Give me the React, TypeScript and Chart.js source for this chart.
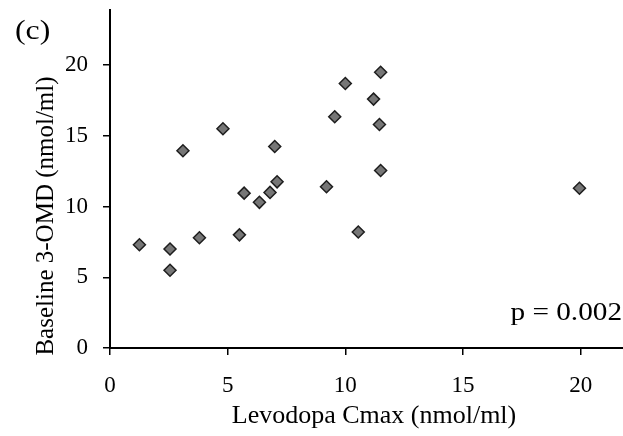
import React, { useEffect, useRef } from "react";
import { Chart, registerables } from "chart.js";

Chart.register(...registerables);

const levodopaCmax: number[] = [1.25, 2.55, 2.55, 3.1, 3.8, 4.8, 5.5, 5.7, 6.35, 6.8, 7.0, 7.1, 9.2, 9.55, 10.0, 10.55, 11.2, 11.45, 11.5, 11.5, 19.95];
const baseline3OMD: number[] = [7.3, 7.0, 5.5, 13.95, 7.8, 15.5, 8.0, 10.95, 10.3, 11.0, 14.25, 11.75, 11.4, 16.35, 18.7, 8.2, 17.6, 15.8, 19.5, 12.55, 11.3];
const xTickValues: number[] = [0, 5, 10, 15, 20];
const yTickValues: number[] = [0, 5, 10, 15, 20];
const panelLabel = "(c)";
const pValueLabel = "p = 0.002";
const xTitle = "Levodopa Cmax (nmol/ml)";
const yTitle = "Baseline 3-OMD (nmol/ml)";

const FONT = "'Liberation Serif', 'Times New Roman', serif";

const textPlugin = {
  id: "textPlugin",
  afterDraw(chart: any) {
    const ctx = chart.ctx as CanvasRenderingContext2D;
    ctx.save();
    ctx.fillStyle = "#000";
    ctx.textBaseline = "alphabetic";
    // panel label
    ctx.save();
    ctx.font = `27px ${FONT}`;
    ctx.textAlign = "left";
    ctx.translate(15, 39);
    ctx.scale(1.18, 1);
    ctx.fillText(panelLabel, 0, 0);
    ctx.restore();
    // p value
    ctx.save();
    ctx.font = `25px ${FONT}`;
    ctx.textAlign = "right";
    ctx.translate(622, 320);
    ctx.scale(1.17, 1);
    ctx.fillText(pValueLabel, 0, 0);
    ctx.restore();
    // x title
    ctx.font = `26px ${FONT}`;
    ctx.textAlign = "center";
    ctx.fillText(xTitle, 374, 423);
    // y title
    ctx.translate(53, 216);
    ctx.rotate(-Math.PI / 2);
    ctx.font = `25px ${FONT}`;
    ctx.textAlign = "center";
    ctx.fillText(yTitle, 0, 0);
    ctx.restore();
  },
};

function zeroPad(s: any) {
  s.paddingTop = 0;
  s.paddingBottom = 0;
  s.paddingLeft = 0;
  s.paddingRight = 0;
}

export default function App() {
  const canvasRef = useRef<HTMLCanvasElement | null>(null);

  useEffect(() => {
    document.body.style.margin = "0";
    const canvas = canvasRef.current;
    if (!canvas) return;
    const points = levodopaCmax.map((x, i) => ({ x, y: baseline3OMD[i] }));
    const chart = new Chart(canvas, {
      type: "scatter",
      data: {
        datasets: [
          {
            data: points,
            pointStyle: "rectRot",
            pointRadius: 6,
            pointBackgroundColor: "#767676",
            pointBorderColor: "#1e1e1e",
            pointBorderWidth: 1.5,
          },
        ],
      },
      options: {
        animation: false,
        responsive: false,
        maintainAspectRatio: false,
        layout: { autoPadding: false, padding: { top: 10, right: 0, left: 0, bottom: 0 } },
        plugins: {
          legend: { display: false },
          tooltip: { enabled: false },
        },
        scales: {
          x: {
            type: "linear",
            min: 0,
            max: 21.8,
            afterFit: (s: any) => {
              s.height = 88;
              zeroPad(s);
            },
            afterBuildTicks: (s: any) => {
              s.ticks = xTickValues.map((v) => ({ value: v }));
            },
            border: { display: true, color: "#000", width: 2 },
            grid: {
              display: true,
              drawOnChartArea: false,
              drawTicks: true,
              tickLength: 7,
              color: "#000",
              lineWidth: 1.5,
            },
            ticks: {
              color: "#000",
              padding: 17,
              maxRotation: 0,
              font: { family: FONT, size: 23 },
            },
          },
          y: {
            type: "linear",
            min: 0,
            max: 23.9,
            afterFit: (s: any) => {
              s.width = 110;
              zeroPad(s);
            },
            afterBuildTicks: (s: any) => {
              s.ticks = yTickValues.map((v) => ({ value: v }));
            },
            border: { display: true, color: "#000", width: 2 },
            grid: {
              display: true,
              drawOnChartArea: false,
              drawTicks: true,
              tickLength: 7,
              color: "#000",
              lineWidth: 1.5,
            },
            ticks: {
              color: "#000",
              padding: 15,
              font: { family: FONT, size: 23 },
            },
          },
        },
      },
      plugins: [textPlugin],
    });
    return () => chart.destroy();
  }, []);

  return (
    <div style={{ position: "absolute", left: 0, top: 0, width: 623, height: 436, background: "#fff" }}>
      <canvas ref={canvasRef} width={623} height={436} />
    </div>
  );
}
